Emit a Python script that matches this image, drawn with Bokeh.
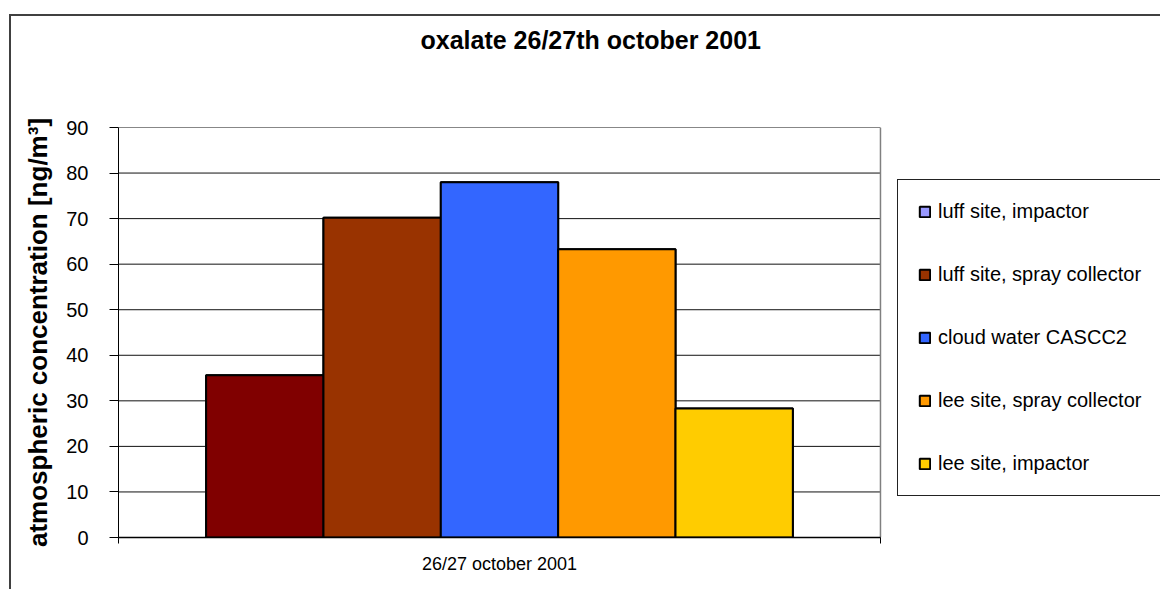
from bokeh.plotting import figure
from bokeh.models import (Range1d, FixedTicker, ColumnDataSource, Legend, LegendItem, Title)
from bokeh.embed import file_html
from bokeh.resources import INLINE

# ---- data ----
title_text = "oxalate 26/27th october 2001"
category = "26/27 october 2001"
series = ["luff site, impactor", "luff site, spray collector", "cloud water CASCC2",
          "lee site, spray collector", "lee site, impactor"]
values = [35.6, 70.2, 78.0, 63.3, 28.3]
bar_colors = ["#800000", "#993300", "#3366FF", "#FF9900", "#FFCC00"]
legend_colors = ["#9999FF", "#993300", "#3366FF", "#FF9900", "#FFCC00"]
y_ticks = [0, 10, 20, 30, 40, 50, 60, 70, 80, 90]
y_label = "atmospheric concentration [ng/m\u00b3]"

FONT = "Liberation Sans"

# the category occupies x = 0..1; the frame continues to the right to hold the legend
p = figure(width=1160, height=589, output_backend="svg", toolbar_location=None,
           x_range=Range1d(0, 1.3675), y_range=Range1d(0, 90),
           min_border_left=118, min_border_right=0, min_border_top=127,
           min_border_bottom=52)
p.background_fill_color = "white"
p.border_fill_alpha = 0
p.outline_line_color = None
# outer chart-area border (left and top edges; right/bottom lie outside the picture)
p.styles = {
    "background": ("linear-gradient(#404040,#404040) 9px 14px / 2px 100% no-repeat, "
                   "linear-gradient(#404040,#404040) 9px 14px / 100% 2px no-repeat, white"),
}

# chart title (the figure's own title, kept clear of the plot area by a blank spacer)
p.title.text = title_text
p.title.align = "left"
p.title.offset = 302
p.title.standoff = 0
p.title.text_font = FONT
p.title.text_font_size = "25px"
p.title.text_font_style = "bold"
p.title.text_color = "black"
p.add_layout(Title(text=" ", text_font_size="1px", standoff=71), "above")

# horizontal gridlines across the plot area only, and the plot-area right edge
p.xgrid.visible = False
p.ygrid.visible = False
p.segment(x0=0, x1=1, y0=y_ticks, y1=y_ticks, line_color="#111111", line_width=1)
p.segment(x0=[1], x1=[1], y0=[min(y_ticks)], y1=[max(y_ticks)],
          line_color="#808080", line_width=1.5)

# bars dodged within the single category (category centre = 0.5)
n = len(values)
bar_w = 0.154
xs = [0.5 + (i - (n - 1) / 2) * bar_w for i in range(n)]
src = ColumnDataSource(dict(x=xs, top=values, color=bar_colors,
                            legend_color=legend_colors, name=series))
# legend-coloured copy (fully hidden below the real bars) supplies the legend swatches
r_leg = p.vbar(x="x", top="top", bottom=0, width=bar_w, source=src,
               fill_color="legend_color", line_color="black", line_width=2)
p.vbar(x="x", top="top", bottom=0, width=bar_w, source=src,
       fill_color="color", line_color="black", line_width=2)

items = [LegendItem(label=s, renderers=[r_leg], index=i) for i, s in enumerate(series)]
legend = Legend(items=items, location=(779, 41), margin=0,
                glyph_width=13, glyph_height=13, label_height=13,
                spacing=40, padding=20, label_standoff=7,
                label_text_font=FONT, label_text_font_size="20px",
                label_text_color="black",
                border_line_color="#222222", border_line_width=1.5,
                border_line_alpha=1,
                background_fill_color="white", background_fill_alpha=1)
p.add_layout(legend)

# axes
p.yaxis.ticker = FixedTicker(ticks=y_ticks)
p.yaxis.major_tick_out = 9
p.yaxis.major_tick_in = 0
p.yaxis.minor_tick_line_color = None
p.yaxis.axis_line_color = "black"
p.yaxis.major_label_text_font = FONT
p.yaxis.major_label_text_font_size = "20px"
p.yaxis.major_label_text_color = "black"
p.yaxis.major_label_standoff = 21
p.yaxis.axis_label = y_label
p.yaxis.axis_label_text_font = FONT
p.yaxis.axis_label_text_font_size = "26px"
p.yaxis.axis_label_text_font_style = "bold"
p.yaxis.axis_label_text_color = "black"
p.yaxis.axis_label_standoff = 10

p.xaxis.bounds = (0, 1)
p.xaxis.ticker = FixedTicker(ticks=[0.5], minor_ticks=[0, 1])
p.xaxis.major_label_overrides = {0.5: category}
p.xaxis.major_tick_line_color = None
p.xaxis.minor_tick_line_color = "black"
p.xaxis.minor_tick_out = 6
p.xaxis.minor_tick_in = 0
p.xaxis.axis_line_color = "black"
p.xaxis.axis_line_width = 1.5
p.xaxis.major_label_text_font = FONT
p.xaxis.major_label_text_font_size = "18px"
p.xaxis.major_label_text_color = "black"
p.xaxis.major_label_standoff = 10

open("out.html", "w").write(file_html(p, INLINE))
